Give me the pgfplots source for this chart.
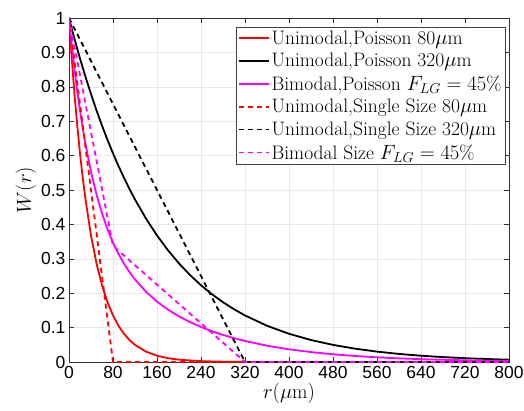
\documentclass[border=0pt]{standalone}
\usepackage{fontspec}
\usepackage{pgfplots}
\pgfplotsset{compat=1.18}
\newfontfamily\tickfont{Liberation Sans}
\definecolor{mag}{RGB}{255,0,255}
\begin{document}
\begin{tikzpicture}
\begin{axis}[
  scale only axis, width=440bp, height=344bp,
  xmin=0, xmax=800, ymin=0, ymax=1,
  xtick={0,80,160,240,320,400,480,560,640,720,800},
  ytick={0,0.1,0.2,0.3,0.4,0.5,0.6,0.7,0.8,0.9,1},
  yticklabels={0,0.1,0.2,0.3,0.4,0.5,0.6,0.7,0.8,0.9,1},
  /pgf/number format/assume math mode=true,
  ticklabel style={font=\tickfont\fontsize{17.5bp}{19bp}\selectfont},
  xticklabel style={yshift=-1bp},
  label style={font=\fontsize{20bp}{22bp}\selectfont},
  xlabel={$r(\mu\mathrm{m})$}, ylabel={$W(r)$},
  xlabel style={yshift=3bp},
  ylabel style={yshift=-2bp},
  grid=major, major grid style={gray!18, line width=0.5bp},
  tick align=inside, tick pos=both, major tick length=5bp,
  tick style={gray!40!black, line width=0.5bp},
  axis line style={line width=0.6bp, gray!40!black},
  legend style={at={(rel axis cs:0.991,0.974)}, anchor=north east,
    font=\fontsize{19.5bp}{23bp}\selectfont, draw=gray!50!black,
    cells={anchor=west}, row sep=3.5bp, inner sep=1.5bp},
  legend image code/.code={\draw[#1] (0bp,0bp) -- (30bp,0bp);},
  every axis plot/.append style={line width=1.8bp},
]
\addplot[red] coordinates {(0,1) (5,0.8825) (10,0.7788) (15,0.6873) (20,0.6065) (25,0.5353) (30,0.4724) (40,0.3679) (50,0.2865) (60,0.2231) (70,0.1738) (80,0.1353) (90,0.1054) (100,0.0821) (110,0.0639) (120,0.0498) (140,0.0302) (160,0.0183) (180,0.0111) (200,0.0067) (240,0.0025) (280,0.0009) (320,0.0003) (400,0.00005) (800,0)};
\addlegendentry{Unimodal,Poisson 80$\mu$m}
\addplot[black] coordinates {(0,1) (5,0.9692) (10,0.9394) (15,0.9105) (20,0.8825) (25,0.8553) (30,0.8290) (40,0.7788) (50,0.7316) (60,0.6873) (70,0.6456) (80,0.6065) (90,0.5698) (100,0.5353) (110,0.5028) (120,0.4724) (140,0.4169) (160,0.3679) (180,0.3247) (200,0.2865) (220,0.2528) (240,0.2231) (260,0.1969) (280,0.1738) (300,0.1534) (320,0.1353) (360,0.1054) (400,0.0821) (440,0.0639) (480,0.0498) (520,0.0388) (560,0.0302) (600,0.0235) (640,0.0183) (680,0.0143) (720,0.0111) (760,0.0087) (800,0.0067)};
\addlegendentry{Unimodal,Poisson 320$\mu$m}
\addplot[mag] coordinates {(0,1) (5,0.9215) (10,0.8511) (15,0.7878) (20,0.7307) (25,0.6793) (30,0.6329) (40,0.5528) (50,0.4868) (60,0.4320) (70,0.3861) (80,0.3473) (90,0.3144) (100,0.2861) (110,0.2614) (120,0.2400) (140,0.2042) (160,0.1757) (180,0.1522) (200,0.1326) (220,0.1160) (240,0.1018) (260,0.0894) (280,0.0787) (300,0.0693) (320,0.0611) (360,0.0474) (400,0.0369) (440,0.0288) (480,0.0224) (520,0.0175) (560,0.0136) (600,0.0106) (640,0.0082) (680,0.0064) (720,0.0050) (760,0.0039) (800,0.0030)};
\addlegendentry{Bimodal,Poisson $F_{LG}=45\%$}
\addplot[red, dash pattern=on 5bp off 4bp] coordinates {(0,1) (80,0) (800,0)};
\addlegendentry{Unimodal,Single Size 80$\mu$m}
\addplot[black, dash pattern=on 5bp off 4bp] coordinates {(0,1) (320,0) (800,0)};
\addlegendentry{Unimodal,Single Size 320$\mu$m}
\addplot[mag, dash pattern=on 5bp off 4bp] coordinates {(0,1) (80,0.3375) (320,0) (800,0)};
\addlegendentry{Bimodal Size $F_{LG}=45\%$}
\coordinate (bl) at (rel axis cs:0,0);
\coordinate (tr) at (rel axis cs:1,1);
\end{axis}
\pgfresetboundingbox
\path ([shift={(-69bp,-48bp)}]bl) rectangle ([shift={(15bp,18bp)}]tr);
\end{tikzpicture}
\end{document}
